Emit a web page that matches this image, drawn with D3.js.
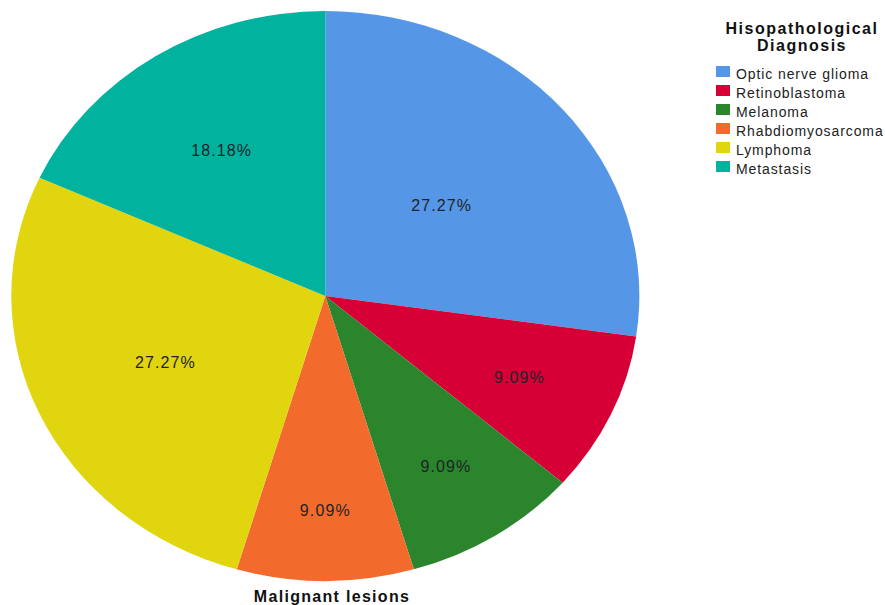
<!DOCTYPE html>
<html>
<head>
<meta charset="utf-8">
<script src="https://cdn.jsdelivr.net/npm/d3@7"></script>
<style>
  body { margin: 0; background: #fff; }
  text { font-family: "Liberation Sans", Arial, sans-serif; }
</style>
</head>
<body>
<script>
// data
var categories = ["Optic nerve glioma", "Retinoblastoma", "Melanoma", "Rhabdiomyosarcoma", "Lymphoma", "Metastasis"];
var percents = [27.27, 9.09, 9.09, 9.09, 27.27, 18.18];
var colors = ["#5597e6", "#d70036", "#2b852c", "#f26b2c", "#e1d50f", "#01b29f"];
var legendTitle = ["Hisopathological", "Diagnosis"];
var chartTitle = "Malignant lesions";

// where each label sits, as a fraction of the radius
var labelRadius = [0.49, 0.68, 0.71, 0.75, 0.56, 0.61];

var width = 885, height = 605;
var cx = 325.3, cy = 296, rx = 314, ry = 285;

var svg = d3.select("body").append("svg")
  .attr("width", width)
  .attr("height", height);

var pie = d3.pie().sort(null).value(function(d){ return d; });
var arcs = pie(percents);

// unit circle, stretched into an ellipse
var arc = d3.arc().innerRadius(0).outerRadius(1);

var pieG = svg.append("g")
  .attr("transform", "translate(" + cx + "," + cy + ") scale(" + rx + "," + ry + ")");

pieG.selectAll("path")
  .data(arcs)
  .enter()
  .append("path")
  .attr("d", arc)
  .attr("fill", function(d, i){ return colors[i]; });

svg.selectAll("text.pct")
  .data(arcs)
  .enter()
  .append("text")
  .attr("class", "pct")
  .attr("x", function(d, i){
    var a = (d.startAngle + d.endAngle) / 2;
    return cx + rx * labelRadius[i] * Math.sin(a);
  })
  .attr("y", function(d, i){
    var a = (d.startAngle + d.endAngle) / 2;
    return cy - ry * labelRadius[i] * Math.cos(a) + 6;
  })
  .attr("text-anchor", "middle")
  .attr("font-size", 16)
  .attr("letter-spacing", 1.1)
  .attr("fill", "#1f2328")
  .text(function(d){ return d.data.toFixed(2) + "%"; });

// bottom title
svg.append("text")
  .attr("x", 332)
  .attr("y", 602)
  .attr("text-anchor", "middle")
  .attr("font-size", 16)
  .attr("font-weight", "bold")
  .attr("letter-spacing", 1.3)
  .attr("fill", "#111")
  .text(chartTitle);

// legend
var legend = svg.append("g");

legend.selectAll("text.title")
  .data(legendTitle)
  .enter()
  .append("text")
  .attr("class", "title")
  .attr("x", 802)
  .attr("y", function(d, i){ return 34 + i * 17; })
  .attr("text-anchor", "middle")
  .attr("font-size", 16)
  .attr("font-weight", "bold")
  .attr("letter-spacing", 1.5)
  .attr("fill", "#111")
  .text(function(d){ return d; });

var rows = legend.selectAll("g.row")
  .data(categories)
  .enter()
  .append("g")
  .attr("class", "row")
  .attr("transform", function(d, i){ return "translate(716," + (66 + i * 19) + ")"; });

rows.append("rect")
  .attr("width", 14)
  .attr("height", 11)
  .attr("fill", function(d, i){ return colors[i]; });

rows.append("text")
  .attr("x", 20)
  .attr("y", 13)
  .attr("font-size", 14)
  .attr("letter-spacing", 0.9)
  .attr("fill", "#222")
  .text(function(d){ return d; });
</script>
</body>
</html>
